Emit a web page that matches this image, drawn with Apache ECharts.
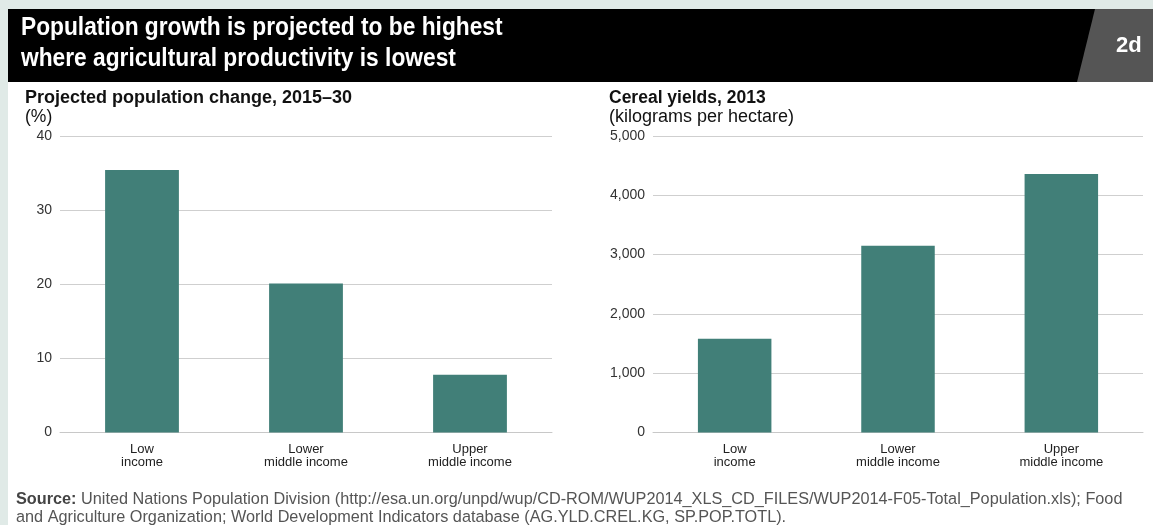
<!DOCTYPE html>
<html><head><meta charset="utf-8">
<script src="https://cdn.jsdelivr.net/npm/echarts@6/dist/echarts.min.js"></script>
<style>html,body{margin:0;padding:0;background:#fff}#c{width:1153px;height:525px}</style>
</head><body><div id="c"></div>
<script>
const categories = ['Low\nincome', 'Lower\nmiddle income', 'Upper\nmiddle income'];
const popChange = [35.4, 20.1, 7.8];
const cerealYields = [1580, 3150, 4360];
const popTicks = {min: 0, max: 40, interval: 10};
const yieldTicks = {min: 0, max: 5000, interval: 1000};
const titleLines = ['Population growth is projected to be highest', 'where agricultural productivity is lowest'];
const leftTitle = 'Projected population change, 2015\u201330';
const leftUnit = '(%)';
const rightTitle = 'Cereal yields, 2013';
const rightUnit = '(kilograms per hectare)';
const badge = '2d';
const sourceLine1 = 'United Nations Population Division (http://esa.un.org/unpd/wup/CD-ROM/WUP2014_XLS_CD_FILES/WUP2014-F05-Total_Population.xls); Food';
const sourceLine2 = 'and Agriculture Organization; World Development Indicators database (AG.YLD.CREL.KG, SP.POP.TOTL).';

const chart = echarts.init(document.getElementById('c'));
const barColor = '#417f78';
const sans = '"Liberation Sans", Arial, sans-serif';

function xAxis(idx) {
  return {
    type: 'category', gridIndex: idx, data: categories,
    axisLine: {show: true, lineStyle: {color: '#c8c8c8', width: 1}},
    axisTick: {show: false},
    axisLabel: {color: '#222', fontFamily: sans, fontSize: 13, lineHeight: 13, margin: 10}
  };
}
function yAxis(idx, t, fmt) {
  return {
    type: 'value', gridIndex: idx, min: t.min, max: t.max, interval: t.interval,
    axisLine: {show: false}, axisTick: {show: false},
    splitLine: {lineStyle: {color: '#cfcfcf', width: 1}},
    axisLabel: {color: '#333', fontFamily: sans, fontSize: 14, margin: 8, formatter: fmt}
  };
}

chart.setOption({
  animation: false,
  backgroundColor: '#ffffff',
  grid: [
    {left: 60, right: 601, top: 136, bottom: 92.5},
    {left: 653, right: 10, top: 136, bottom: 92.5}
  ],
  xAxis: [xAxis(0), xAxis(1)],
  yAxis: [
    yAxis(0, popTicks, v => String(v)),
    yAxis(1, yieldTicks, v => v.toLocaleString('en-US'))
  ],
  series: [
    {type: 'bar', xAxisIndex: 0, yAxisIndex: 0, data: popChange, barWidth: '45%', itemStyle: {color: barColor}},
    {type: 'bar', xAxisIndex: 1, yAxisIndex: 1, data: cerealYields, barWidth: '45%', itemStyle: {color: barColor}}
  ],
  graphic: [
    {type: 'rect', shape: {x: 0, y: 0, width: 1153, height: 9}, style: {fill: '#e0eae7'}, silent: true},
    {type: 'rect', shape: {x: 0, y: 0, width: 8, height: 525}, style: {fill: '#e0eae7'}, silent: true},
    {type: 'rect', shape: {x: 8, y: 9, width: 1100, height: 73}, style: {fill: '#000'}},
    {type: 'polygon', shape: {points: [[1095, 9], [1153, 9], [1153, 82], [1077, 82]]}, style: {fill: '#555555'}},
    {type: 'text', x: 21, y: 16, scaleX: 0.91, style: {text: titleLines[0], fill: '#fff', font: 'bold 25px ' + sans}},
    {type: 'text', x: 21, y: 47, scaleX: 0.91, style: {text: titleLines[1], fill: '#fff', font: 'bold 25px ' + sans}},
    {type: 'text', x: 1116, y: 35, style: {text: badge, fill: '#fff', font: 'bold 22px ' + sans}},
    {type: 'text', x: 25, y: 89, style: {text: leftTitle, fill: '#111', font: 'bold 18px ' + sans}},
    {type: 'text', x: 25, y: 108, style: {text: leftUnit, fill: '#111', font: '17.5px ' + sans}},
    {type: 'text', x: 609, y: 89, style: {text: rightTitle, fill: '#111', font: 'bold 17.5px ' + sans}},
    {type: 'text', x: 609, y: 108, style: {text: rightUnit, fill: '#111', font: '18px ' + sans}},
    {type: 'text', x: 16, y: 491, style: {
      text: '{b|Source:} ' + sourceLine1 + '\n' + sourceLine2,
      fill: '#555', font: '16.25px ' + sans, lineHeight: 18,
      rich: {b: {fill: '#444', font: 'bold 16.25px ' + sans, lineHeight: 18}}
    }}
  ]
});
</script></body></html>
